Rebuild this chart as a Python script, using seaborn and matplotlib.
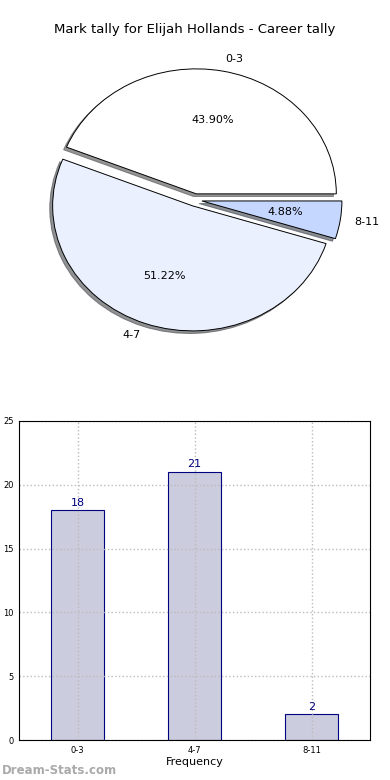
import pandas as pd
import numpy as np
import matplotlib
matplotlib.use("Agg")
import matplotlib.pyplot as plt
import seaborn as sns

# data
categories = ["0-3", "4-7", "8-11"]
tally = [18, 21, 2]
pie_colors = ["#ffffff", "#eaf0fe", "#c5d7fe"]
explode = [0.05, 0.05, 0.05]

sns.set_theme(style="white")
plt.rcParams["font.family"] = ["DejaVu Sans"]
plt.rcParams["text.color"] = "black"
plt.rcParams["xtick.color"] = "black"
plt.rcParams["ytick.color"] = "black"
plt.rcParams["axes.labelcolor"] = "black"

fig = plt.figure(figsize=(3.9, 7.8), dpi=100)

# ---- pie ----
ax_pie = fig.add_axes([0, 440 / 780, 1, 280 / 780])
wedges, texts, autotexts = ax_pie.pie(
        tally,
        labels=categories,
        colors=pie_colors,
        explode=explode,
        autopct="%.2f%%",
        shadow={"ox": -0.015, "oy": -0.015, "alpha": 0.6},
        startangle=0,
        counterclock=True,
        wedgeprops={"edgecolor": "black", "linewidth": 0.7},
        textprops={"fontsize": 8, "color": "black"},
        )
ax_pie.set_aspect("auto")
ax_pie.set_xlim(-1.393, 1.393)
ax_pie.set_ylim(-1.12, 1.12)
fig.text(0.5, 1 - 30 / 780, "Mark tally for Elijah Hollands - Career tally",
         ha="center", va="center", fontsize=9.5)

# ---- bars ----
ax = fig.add_axes([19 / 390, 40 / 780, 351 / 390, 319 / 780])
df = pd.DataFrame({"range": categories, "count": tally})
sns.barplot(data=df, x="range", y="count", ax=ax, width=0.45,
            color="#ccccdf", edgecolor="navy", linewidth=0.8, saturation=1)
for p, v in zip(ax.patches, tally):
    ax.text(p.get_x() + p.get_width() / 2, v + 0.2, str(v),
            ha="center", va="bottom", color="navy", fontsize=8)
ax.set_xlim(-0.5, 2.5)
ax.set_ylim(0, 25)
ax.set_yticks([0, 5, 10, 15, 20, 25])
ax.grid(True, linestyle=":", color="#bbbbbb", linewidth=1)
ax.set_axisbelow(False)
for s in ax.spines.values():
    s.set_color("black")
    s.set_linewidth(0.8)
    s.set_zorder(5)
ax.tick_params(labelsize=6, length=0, pad=4)
ax.set_xlabel("Frequency", fontsize=8, labelpad=2)
ax.set_ylabel("Goals from Mark", fontsize=7)
ax.yaxis.set_label_coords(-0.058, 0.5)

fig.text(2 / 390, 1 - 770 / 780, "Dream-Stats.com", ha="left", va="center",
         fontsize=8.5, color="#aaaaaa", fontweight="bold")

fig.savefig("out.png", dpi=100)
